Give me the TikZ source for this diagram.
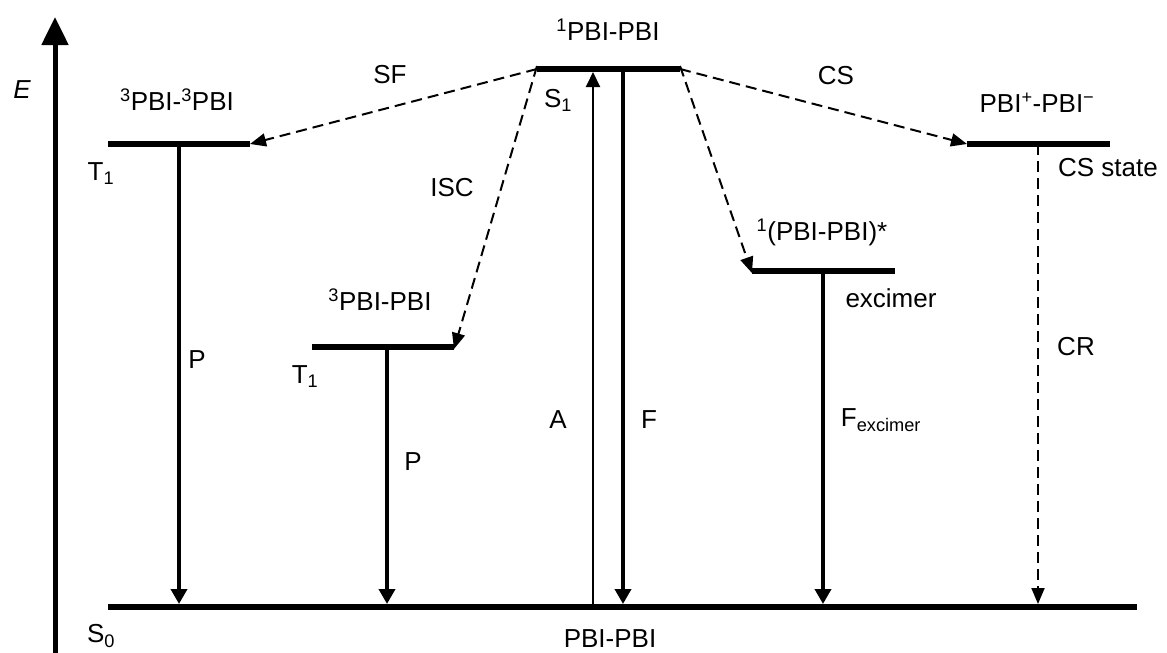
\documentclass[tikz,border=0pt]{standalone}
\usepackage{fontspec}
\setmainfont{Liberation Sans}
\usetikzlibrary{arrows.meta}
\begin{document}
\begin{tikzpicture}[x=1pt,y=-1pt,
  lvl/.style={line width=5.5pt},
  solidarr/.style={line width=3.6pt,-{Triangle[width=16pt,length=15pt]}},
  thinarr/.style={line width=2pt,-{Triangle[width=14pt,length=15pt]}},
  dsharr/.style={line width=2pt,dash pattern=on 11pt off 6pt,-{Triangle[width=13pt,length=16pt]}},
  lab/.style={font=\fontsize{26}{30}\selectfont, inner sep=0pt}
]
\useasboundingbox (0,0) rectangle (1167,653);
% energy axis
\coordinate (axbot) at (55,653);
\coordinate (axtop) at (55,17);
\draw[line width=5pt,-{Triangle[width=26pt,length=28pt]}] (axbot) -- (axtop);
\node[lab] (E) at (22,90) {\itshape E};
% level end points
\coordinate (S0L) at (108,607);  \coordinate (S0R) at (1137,607);
\coordinate (S1L) at (537,69);   \coordinate (S1R) at (680,69);
\coordinate (TTL) at (108,144);  \coordinate (TTR) at (250,144);
\coordinate (TL) at (312,347);   \coordinate (TR) at (454,347);
\coordinate (XL) at (752,271);   \coordinate (XR) at (895,271);
\coordinate (CL) at (967,144);   \coordinate (CR) at (1110,144);
% vertical transition end points
\coordinate (p1a) at (179,144);  \coordinate (p1b) at (179,604);
\coordinate (p2a) at (387,347);  \coordinate (p2b) at (387,604);
\coordinate (aa) at (593,607);   \coordinate (ab) at (593,72);
\coordinate (fa) at (623,69);    \coordinate (fb) at (623,604);
\coordinate (xa) at (823,271);   \coordinate (xb) at (823,604);
\coordinate (ca) at (1038,144);  \coordinate (cb) at (1038,604);
% vertical transitions
\draw[solidarr] (p1a) -- (p1b);
\draw[solidarr] (p2a) -- (p2b);
\draw[thinarr] (aa) -- (ab);
\draw[solidarr] (fa) -- (fb);
\draw[solidarr] (xa) -- (xb);
\draw[dsharr] (ca) -- (cb);
% levels
\draw[lvl] (S0L) -- (S0R);
\draw[lvl] (S1L) -- (S1R);
\draw[lvl] (TTL) -- (TTR);
\draw[lvl] (TL) -- (TR);
\draw[lvl] (XL) -- (XR);
\draw[lvl] (CL) -- (CR);
% dashed transitions from S1
\draw[dsharr] (S1L) -- (TTR);
\draw[dsharr] ([yshift=3pt]S1L) -- ([yshift=-2pt]TR);
\draw[dsharr] ([yshift=3pt]S1R) -- ([yshift=-2pt]XL);
\draw[dsharr] (S1R) -- (CL);
% labels
\node[lab] (tt) at (177,100) {\textsuperscript{3}PBI-\textsuperscript{3}PBI};
\node[lab] (t1a) at (101,174) {T\textsubscript{1}};
\node[lab] (s1lab) at (608,30) {\textsuperscript{1}PBI-PBI};
\node[lab] (s1) at (558,100) {S\textsubscript{1}};
\node[lab] (sf) at (390,75) {SF};
\node[lab] (cs) at (836,76) {CS};
\node[lab] (csl) at (1037,103) {PBI\textsuperscript{+}-PBI\textsuperscript{\textminus}};
\node[lab] (css) at (1108,168) {CS state};
\node[lab] (isc) at (452,188) {ISC};
\node[lab] (tp) at (380,300) {\textsuperscript{3}PBI-PBI};
\node[lab] (t1b) at (305,377) {T\textsubscript{1}};
\node[lab] (exl) at (822,232) {\textsuperscript{1}(PBI-PBI)*};
\node[lab] (exs) at (891,298) {excimer};
\node[lab] (p1) at (197,360) {P};
\node[lab] (p2) at (413,462) {P};
\node[lab] (al) at (558,420) {A};
\node[lab] (fl) at (649,420) {F};
\node[lab] (fx) at (881,420) {F\textsubscript{excimer}};
\node[lab] (crl) at (1076,347) {CR};
\node[lab] (s0) at (101,636) {S\textsubscript{0}};
\node[lab] (gs) at (610,639) {PBI-PBI};
\end{tikzpicture}
\end{document}
